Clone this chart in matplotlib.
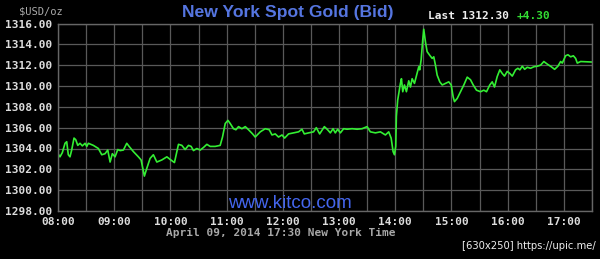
import numpy as np
import matplotlib
matplotlib.use("Agg")
import matplotlib.pyplot as plt
from matplotlib.ticker import MultipleLocator, FixedLocator

# minutes after 08:00 and bid price
minutes = [0, 2.1, 4.6, 7.5, 9.3, 11.0, 12.8, 14.6, 17.1, 18.9, 21.1, 23.5, 26.0, 28.9,
           30.7, 32.4, 37.7, 43.1, 46.7, 50.2, 53.1, 55.6, 58.0, 60.9, 63.8, 66.3, 69.8,
           73.4, 75.9, 80.5, 85.8, 88.7, 92.2, 94.8, 98.3, 101.8, 105.5, 110.8, 116.2,
           119.7, 124.3, 128.6, 132.2, 135.7, 139.3, 142.1, 144.6, 148.2, 151.8, 155.3,
           158.9, 162.4, 167.8, 173.1, 175.6, 178.5, 181.4, 183.8, 187.3, 189.9, 192.7,
           196.3, 199.9, 203.4, 207.7, 210.5, 215.9, 221.2, 225.5, 228.4, 231.9, 235.4,
           239.1, 241.9, 246.1, 251.5, 256.8, 260.4, 262.9, 267.5, 272.8, 275.7, 279.3,
           284.3, 287.8, 290.7, 293.6, 296.0, 298.5, 301.4, 304.9, 308.5, 313.9, 319.2,
           324.6, 329.9, 333.4, 338.8, 344.1, 349.5, 353.0, 355.6, 357.7, 359.1, 360.5,
           361.2, 362.6, 365.5, 366.6, 368.0, 369.8, 371.9, 374.4, 376.2, 378.0, 380.5,
           383.3, 385.1, 386.1, 387.6, 389.3, 390.4, 392.2, 394.0, 396.8, 399.4, 401.1,
           402.9, 404.7, 407.5, 410.1, 413.6, 417.1, 419.7, 421.8, 423.2, 426.1, 429.6,
           433.2, 436.8, 440.3, 443.2, 446.7, 451.0, 454.5, 457.4, 460.9, 463.5, 465.9,
           468.8, 471.6, 474.2, 476.6, 479.5, 482.3, 484.9, 488.4, 490.9, 493.0, 495.6,
           498.1, 500.9, 504.4, 508.0, 511.6, 515.1, 518.6, 522.3, 526.5, 530.1, 533.6,
           536.5, 538.3, 541.8, 544.3, 547.2, 550.1, 552.5, 554.3, 557.9, 570.0]
prices = [1303.5, 1303.2, 1303.6, 1304.5, 1304.65, 1303.4, 1303.2, 1303.85, 1305.0, 1304.85,
          1304.3, 1304.5, 1304.25, 1304.5, 1304.2, 1304.5, 1304.3, 1304.0, 1303.4, 1303.5,
          1303.85, 1302.7, 1303.5, 1303.2, 1303.9, 1303.8, 1303.85, 1304.5, 1304.2, 1303.7,
          1303.2, 1302.9, 1301.35, 1302.1, 1303.05, 1303.4, 1302.7, 1302.9, 1303.2, 1302.95,
          1302.65, 1304.4, 1304.3, 1303.9, 1304.3, 1304.2, 1303.8, 1304.0, 1303.85, 1304.1,
          1304.4, 1304.2, 1304.2, 1304.3, 1305.1, 1306.4, 1306.7, 1306.4, 1305.9, 1305.8,
          1306.1, 1305.9, 1306.1, 1305.8, 1305.4, 1305.1, 1305.6, 1305.9, 1305.8, 1305.3,
          1305.4, 1305.1, 1305.3, 1305.0, 1305.4, 1305.5, 1305.6, 1305.85, 1305.4, 1305.5,
          1305.6, 1306.0, 1305.4, 1306.1, 1305.8, 1305.5, 1305.9, 1305.5, 1305.85, 1305.5,
          1305.9, 1305.85, 1305.9, 1305.85, 1305.9, 1306.1, 1305.6, 1305.5, 1305.6, 1305.3,
          1305.6, 1305.0, 1303.7, 1303.4, 1304.2, 1307.1, 1308.65, 1310.25, 1310.7, 1309.45,
          1310.1, 1309.45, 1310.5, 1309.9, 1310.7, 1310.25, 1311.2, 1311.85, 1311.55, 1312.5,
          1314.4, 1315.45, 1314.25, 1313.3, 1312.95, 1312.65, 1312.8, 1312.0, 1311.05, 1310.4,
          1310.1, 1310.25, 1310.4, 1310.1, 1308.95, 1308.5, 1308.8, 1309.45, 1310.1, 1310.85,
          1310.6, 1310.1, 1309.6, 1309.45, 1309.6, 1309.45, 1310.1, 1310.4, 1309.9, 1310.9,
          1311.55, 1311.2, 1310.95, 1311.4, 1311.2, 1310.95, 1311.55, 1311.7, 1311.55, 1311.9,
          1311.6, 1311.8, 1311.7, 1311.85, 1311.9, 1312.0, 1312.35, 1312.1, 1311.85, 1311.6,
          1311.9, 1312.35, 1312.2, 1312.9, 1313.0, 1312.8, 1312.9, 1312.65, 1312.2, 1312.35,
          1312.3]

hour_labels = ["08:00", "09:00", "10:00", "11:00", "12:00", "13:00", "14:00", "15:00", "16:00", "17:00"]
last_price = "1312.30"
change = "+4.30"

hours = 8 + np.array(minutes) / 60.0

fig = plt.figure(figsize=(6.0, 2.59), dpi=100, facecolor="black")
ax = fig.add_axes([58 / 600, 1 - 211 / 259, 534 / 600, 187.5 / 259])
ax.set_facecolor("black")

ax.plot(hours, prices, color="#33ee33", linewidth=1.2)

ax.set_xlim(8, 17.5)
ax.set_ylim(1298, 1316)
ax.xaxis.set_major_locator(FixedLocator(np.arange(8, 17.01, 1)))
ax.xaxis.set_minor_locator(MultipleLocator(0.5))
ax.set_xticklabels(hour_labels)
ax.yaxis.set_major_locator(MultipleLocator(2))
ax.yaxis.set_major_formatter(plt.FuncFormatter(lambda v, p: f"{v:.2f}"))

ax.grid(True, which="both", color="#595959", linewidth=0.9)
ax.set_axisbelow(True)
for s in ax.spines.values():
    s.set_color("#666666")
    s.set_linewidth(1.0)

ax.tick_params(which="both", length=0, colors="#dddddd", labelsize=8, pad=4)
for lab in ax.get_xticklabels() + ax.get_yticklabels():
    lab.set_family("DejaVu Sans Mono")
    lab.set_fontweight("bold")
    lab.set_color("#dddddd")

mono = "DejaVu Sans Mono"
fig.text(288 / 600, 1 - 12 / 259, "New York Spot Gold (Bid)", ha="center", va="center",
         color="#5575e0", fontsize=12.6, fontweight="bold", family="Liberation Sans")
fig.text(19 / 600, 1 - 11 / 259, "$USD/oz", ha="left", va="center", color="#aaaaaa",
         fontsize=7.5, family=mono)
fig.text(428 / 600, 1 - 16 / 259, f"Last {last_price}", ha="left", va="center",
         color="#eeeeee", fontsize=8, family=mono, fontweight="bold")
fig.text(517 / 600, 1 - 16 / 259, change, ha="left", va="center",
         color="#33dd33", fontsize=8, family=mono, fontweight="bold")
fig.text(290 / 600, 1 - 204 / 259, "www.kitco.com", ha="center", va="center",
         color="#4466ee", fontsize=13.5, family="Liberation Sans")
fig.text(281 / 600, 1 - 232.5 / 259, "April 09, 2014 17:30 New York Time", ha="center",
         va="center", color="#a8a8a8", fontsize=8, family=mono, fontweight="bold")
fig.text(596 / 600, 1 - 246 / 259, "[630x250] https://upic.me/", ha="right", va="center",
         color="#eeeeee", fontsize=8, family="DejaVu Sans", fontstretch="condensed")

fig.savefig("out.png", dpi=100, facecolor="black")
